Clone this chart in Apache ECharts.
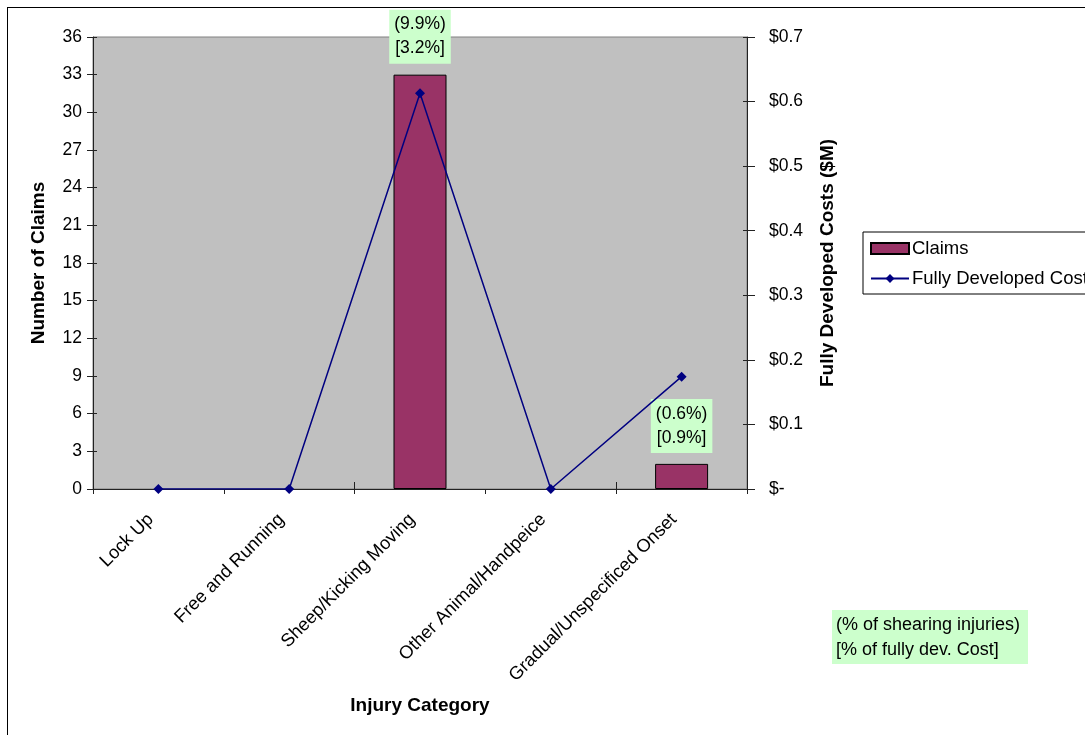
<!DOCTYPE html>
<html>
<head>
<meta charset="utf-8">
<script src="https://cdn.jsdelivr.net/npm/echarts@6/dist/echarts.min.js"></script>
<style>
  html, body { margin: 0; padding: 0; background: #fff; }
  #chart { width: 1085px; height: 735px; }
</style>
</head>
<body>
<div id="chart"></div>
<script>
// Shearing injury claims and fully developed costs by injury category
const categories = ['Lock Up', 'Free and Running', 'Sheep/Kicking Moving', 'Other Animal/Handpeice', 'Gradual/Unspecificed Onset'];
const claims = [0, 0, 33, 0, 2];
const fullyDevelopedCost = [0, 0, 0.613, 0, 0.174];
// (% of shearing injuries) and [% of fully developed cost] per category
const pctInjuries = ['', '', '9.9%', '', '0.6%'];
const pctCost = ['', '', '3.2%', '', '0.9%'];
const claimTicks = [0, 3, 6, 9, 12, 15, 18, 21, 24, 27, 30, 33, 36];
const costTicks = [0, 0.1, 0.2, 0.3, 0.4, 0.5, 0.6, 0.7];

const FONT = '"Liberation Sans", Arial, sans-serif';
const AXIS_COLOR = '#222';
const chart = echarts.init(document.getElementById('chart'), null, { renderer: 'canvas' });

// Bars with a zero count draw nothing; bars with percentages carry a green note
const claimData = claims.map((v, i) => ({
  value: v,
  itemStyle: v === 0 ? { borderWidth: 0, opacity: 0 } : {},
  label: { show: !!pctInjuries[i] }
}));

const claimMax = claimTicks[claimTicks.length - 1];
const costMax = costTicks[costTicks.length - 1];

// Extra label-less axes draw the inner half of each tick so the ticks cross the axis lines
const innerTicks = { show: true, inside: true, length: 4, lineStyle: { color: AXIS_COLOR } };

chart.setOption({
  animation: false,
  textStyle: { fontFamily: FONT, color: '#000' },
  grid: {
    left: 93, right: 338, top: 37, bottom: 246,
    show: true, backgroundColor: '#c0c0c0', borderColor: '#808080', borderWidth: 1
  },
  legend: {
    orient: 'vertical',
    left: 863, top: 232,
    padding: [7, 200, 6, 7],
    itemGap: 11,
    itemWidth: 38, itemHeight: 11,
    borderColor: '#000', borderWidth: 1,
    backgroundColor: '#fff',
    textStyle: { fontFamily: FONT, fontSize: 18.5, color: '#000', padding: [0, 0, 0, -2] },
    data: [{ name: 'Claims', icon: 'rect' }, { name: 'Fully Developed Cost' }]
  },
  xAxis: [
    {
      type: 'category',
      data: categories,
      name: 'Injury Category',
      nameLocation: 'middle',
      nameGap: 207,
      nameMoveOverlap: false,
      nameTextStyle: { fontFamily: FONT, fontSize: 19, fontWeight: 'bold', color: '#000' },
      axisLine: { lineStyle: { color: AXIS_COLOR, width: 1 } },
      axisTick: { show: true, alignWithLabel: false, length: 5, lineStyle: { color: AXIS_COLOR } },
      axisLabel: {
        rotate: 45, interval: 0, margin: 20, padding: [0, 11, 0, 0],
        fontSize: 18.3, color: '#000', fontFamily: FONT
      },
      splitLine: { show: false }
    },
    {
      type: 'category',
      data: categories,
      position: 'bottom',
      axisLine: { show: false },
      axisTick: { show: true, inside: true, length: 7, lineStyle: { color: AXIS_COLOR } },
      axisLabel: { show: false },
      splitLine: { show: false }
    }
  ],
  yAxis: [
    {
      type: 'value',
      min: 0, max: claimMax, interval: 3,
      name: 'Number of Claims',
      nameLocation: 'middle', nameRotate: 90, nameGap: 45,
      nameTextStyle: { fontFamily: FONT, fontSize: 19, fontWeight: 'bold', color: '#000' },
      axisLine: { show: true, lineStyle: { color: AXIS_COLOR } },
      axisTick: { show: true, length: 6, lineStyle: { color: AXIS_COLOR } },
      axisLabel: { fontSize: 17.5, color: '#000', margin: 11, fontFamily: FONT },
      splitLine: { show: false }
    },
    {
      type: 'value',
      position: 'right',
      min: 0, max: costMax, interval: 0.1,
      name: 'Fully Developed Costs ($M)',
      nameLocation: 'middle', nameRotate: 90, nameGap: 71,
      nameTextStyle: { fontFamily: FONT, fontSize: 19, fontWeight: 'bold', color: '#000' },
      axisLine: { show: true, lineStyle: { color: AXIS_COLOR } },
      axisTick: { show: true, length: 8, lineStyle: { color: AXIS_COLOR } },
      axisLabel: {
        fontSize: 17.5, color: '#000', margin: 22, fontFamily: FONT,
        formatter: v => (v === 0 ? '$-' : '$' + v.toFixed(1))
      },
      splitLine: { show: false }
    },
    {
      type: 'value', position: 'left', min: 0, max: claimMax, interval: 3,
      axisLine: { show: false }, axisTick: innerTicks,
      axisLabel: { show: false }, splitLine: { show: false }
    },
    {
      type: 'value', position: 'right', min: 0, max: costMax, interval: 0.1,
      axisLine: { show: false }, axisTick: innerTicks,
      axisLabel: { show: false }, splitLine: { show: false }
    }
  ],
  series: [
    {
      name: 'Claims',
      type: 'bar',
      xAxisIndex: 0,
      yAxisIndex: 0,
      data: claimData,
      barWidth: 53,
      itemStyle: { color: '#993366', borderColor: '#000', borderWidth: 1 },
      label: {
        position: 'top',
        distance: 11,
        formatter: p => '(' + pctInjuries[p.dataIndex] + ')\n[' + pctCost[p.dataIndex] + ']',
        backgroundColor: '#ccffcc',
        padding: [3, 5, 3, 5],
        lineHeight: 24,
        fontSize: 17.5,
        color: '#000',
        fontFamily: FONT
      },
      z: 2
    },
    {
      name: 'Fully Developed Cost',
      type: 'line',
      xAxisIndex: 0,
      yAxisIndex: 1,
      data: fullyDevelopedCost,
      symbol: 'diamond',
      symbolSize: 10,
      lineStyle: { color: '#000080', width: 1.5 },
      itemStyle: { color: '#000080' },
      z: 3
    }
  ],
  graphic: [
    // chart-area frame: top and left edges
    { type: 'rect', shape: { x: 7, y: 7, width: 1078, height: 1 }, style: { fill: '#000' }, silent: true, z: 100 },
    { type: 'rect', shape: { x: 7, y: 7, width: 1, height: 728 }, style: { fill: '#000' }, silent: true, z: 100 },
    {
      type: 'group',
      left: 832, top: 610,
      children: [
        { type: 'rect', shape: { x: 0, y: 0, width: 196, height: 54 }, style: { fill: '#ccffcc' } },
        {
          type: 'text', x: 4, y: 3,
          style: {
            text: '(% of shearing injuries)\n[% of fully dev. Cost]',
            font: '18px "Liberation Sans", Arial, sans-serif',
            lineHeight: 25, fill: '#000'
          }
        }
      ]
    }
  ]
});
</script>
</body>
</html>
